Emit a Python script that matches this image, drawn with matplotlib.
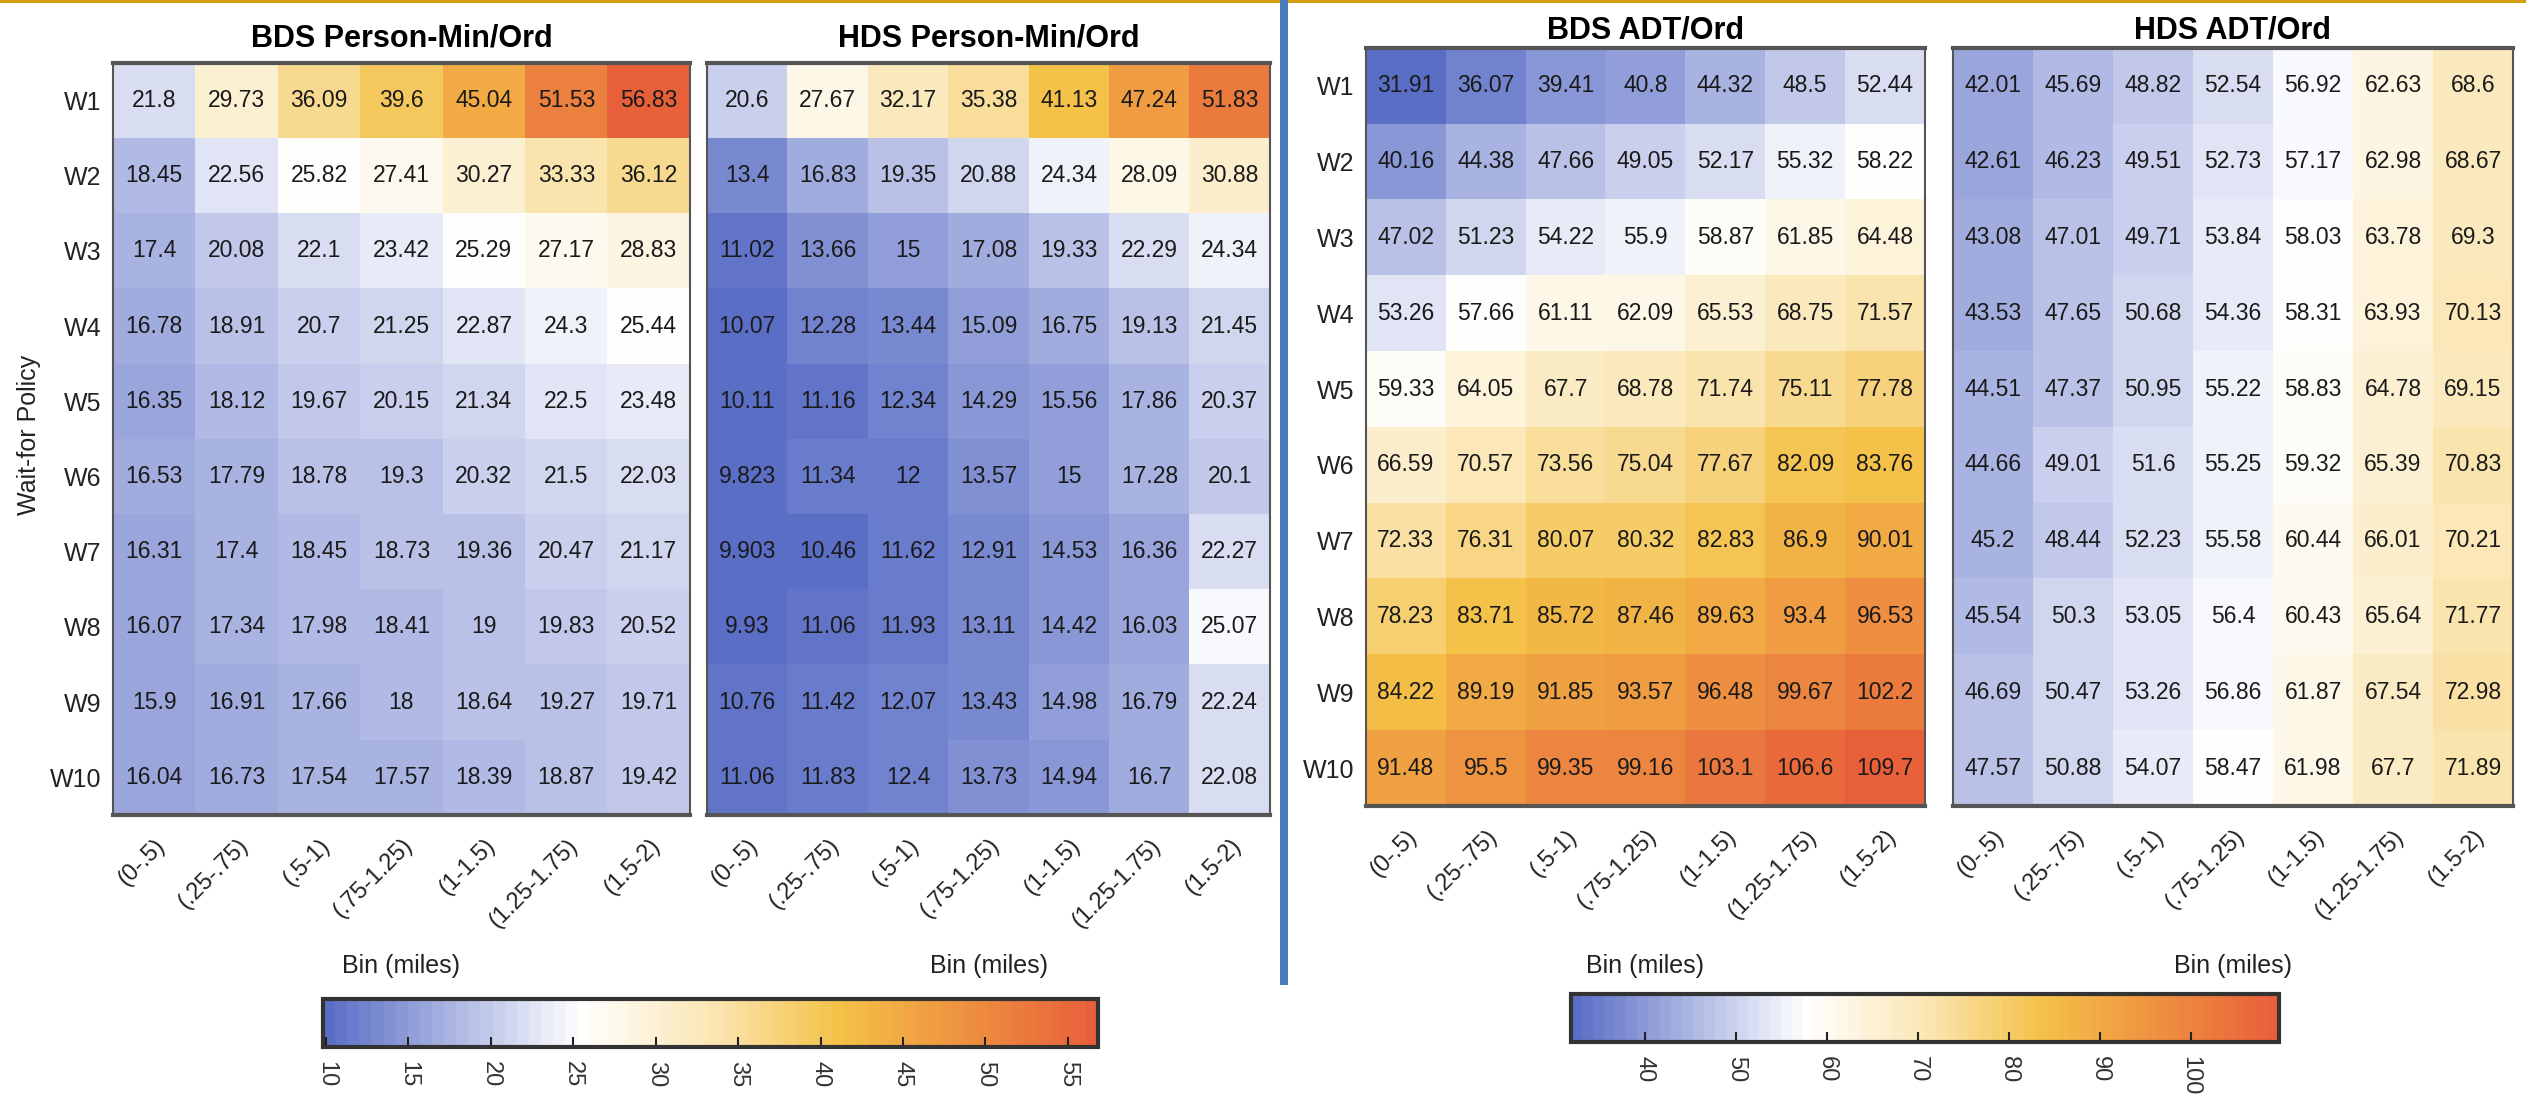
import numpy as np
import matplotlib.pyplot as plt
from matplotlib.colors import LinearSegmentedColormap
from matplotlib.patches import Rectangle

plt.rcParams['font.family'] = ['Liberation Sans', 'DejaVu Sans']

bins = ["(0-.5)", "(.25-.75)", "(.5-1)", "(.75-1.25)", "(1-1.5)", "(1.25-1.75)", "(1.5-2)"]
policies = ["W1", "W2", "W3", "W4", "W5", "W6", "W7", "W8", "W9", "W10"]

bds_person_min = [
    [21.8, 29.73, 36.09, 39.6, 45.04, 51.53, 56.83],
    [18.45, 22.56, 25.82, 27.41, 30.27, 33.33, 36.12],
    [17.4, 20.08, 22.1, 23.42, 25.29, 27.17, 28.83],
    [16.78, 18.91, 20.7, 21.25, 22.87, 24.3, 25.44],
    [16.35, 18.12, 19.67, 20.15, 21.34, 22.5, 23.48],
    [16.53, 17.79, 18.78, 19.3, 20.32, 21.5, 22.03],
    [16.31, 17.4, 18.45, 18.73, 19.36, 20.47, 21.17],
    [16.07, 17.34, 17.98, 18.41, 19, 19.83, 20.52],
    [15.9, 16.91, 17.66, 18, 18.64, 19.27, 19.71],
    [16.04, 16.73, 17.54, 17.57, 18.39, 18.87, 19.42],
]
hds_person_min = [
    [20.6, 27.67, 32.17, 35.38, 41.13, 47.24, 51.83],
    [13.4, 16.83, 19.35, 20.88, 24.34, 28.09, 30.88],
    [11.02, 13.66, 15, 17.08, 19.33, 22.29, 24.34],
    [10.07, 12.28, 13.44, 15.09, 16.75, 19.13, 21.45],
    [10.11, 11.16, 12.34, 14.29, 15.56, 17.86, 20.37],
    [9.823, 11.34, 12, 13.57, 15, 17.28, 20.1],
    [9.903, 10.46, 11.62, 12.91, 14.53, 16.36, 22.27],
    [9.93, 11.06, 11.93, 13.11, 14.42, 16.03, 25.07],
    [10.76, 11.42, 12.07, 13.43, 14.98, 16.79, 22.24],
    [11.06, 11.83, 12.4, 13.73, 14.94, 16.7, 22.08],
]
bds_adt = [
    [31.91, 36.07, 39.41, 40.8, 44.32, 48.5, 52.44],
    [40.16, 44.38, 47.66, 49.05, 52.17, 55.32, 58.22],
    [47.02, 51.23, 54.22, 55.9, 58.87, 61.85, 64.48],
    [53.26, 57.66, 61.11, 62.09, 65.53, 68.75, 71.57],
    [59.33, 64.05, 67.7, 68.78, 71.74, 75.11, 77.78],
    [66.59, 70.57, 73.56, 75.04, 77.67, 82.09, 83.76],
    [72.33, 76.31, 80.07, 80.32, 82.83, 86.9, 90.01],
    [78.23, 83.71, 85.72, 87.46, 89.63, 93.4, 96.53],
    [84.22, 89.19, 91.85, 93.57, 96.48, 99.67, 102.2],
    [91.48, 95.5, 99.35, 99.16, 103.1, 106.6, 109.7],
]
hds_adt = [
    [42.01, 45.69, 48.82, 52.54, 56.92, 62.63, 68.6],
    [42.61, 46.23, 49.51, 52.73, 57.17, 62.98, 68.67],
    [43.08, 47.01, 49.71, 53.84, 58.03, 63.78, 69.3],
    [43.53, 47.65, 50.68, 54.36, 58.31, 63.93, 70.13],
    [44.51, 47.37, 50.95, 55.22, 58.83, 64.78, 69.15],
    [44.66, 49.01, 51.6, 55.25, 59.32, 65.39, 70.83],
    [45.2, 48.44, 52.23, 55.58, 60.44, 66.01, 70.21],
    [45.54, 50.3, 53.05, 56.4, 60.43, 65.64, 71.77],
    [46.69, 50.47, 53.26, 56.86, 61.87, 67.54, 72.98],
    [47.57, 50.88, 54.07, 58.47, 61.98, 67.7, 71.89],
]

# blue -> white -> yellow -> orange, 64 steps like a MATLAB colormap
cmap = LinearSegmentedColormap.from_list(
    "bwyo",
    [(0.0, "#5a6ec6"), (0.33, "#ffffff"), (0.5, "#fbe6b4"),
     (0.67, "#f4c147"), (1.0, "#e8603a")],
    N=64,
)

W, H = 2526, 1096
fig = plt.figure(figsize=(W / 100, H / 100), dpi=100)


def fbox(x0, y0, x1, y1):
    # pixel box (top-left origin) -> figure fraction rect
    return [x0 / W, 1 - y1 / H, (x1 - x0) / W, (y1 - y0) / H]


def heatmap(rect, data, title, vmin, vmax, rowlabels, title_pad, xlab_y):
    ax = fig.add_axes(rect)
    arr = np.array(data)
    im = ax.imshow(arr, cmap=cmap, vmin=vmin, vmax=vmax, aspect="auto",
                   interpolation="nearest")
    for i in range(arr.shape[0]):
        for j in range(arr.shape[1]):
            ax.text(j, i, f"{arr[i, j]:.4g}", ha="center", va="center",
                    fontsize=16.5, color="#1a1a1a")
    ax.set_xticks(range(len(bins)))
    ax.set_xticklabels(bins, rotation=45, ha="right", rotation_mode="anchor",
                       fontsize=17, color="#222222")
    ax.set_yticks(range(len(policies)))
    if rowlabels:
        ax.set_yticklabels(policies, fontsize=18, color="#222222")
    else:
        ax.set_yticklabels([])
    ax.tick_params(axis="x", length=0, pad=14)
    ax.tick_params(axis="y", length=0, pad=8)
    ax.set_title(title, fontsize=22, fontweight="bold", pad=title_pad)
    ax.set_xlabel("Bin (miles)", fontsize=18, color="#222222")
    ax.xaxis.set_label_coords(0.5, xlab_y)
    for side, sp in ax.spines.items():
        sp.set_color("#555555")
        sp.set_linewidth(3 if side in ("top", "bottom") else 1.5)
    return im


lim_pm = (np.min([bds_person_min, hds_person_min]), np.max([bds_person_min, hds_person_min]))
lim_adt = (np.min([bds_adt, hds_adt]), np.max([bds_adt, hds_adt]))

im1 = heatmap(fbox(113, 63, 690, 815), bds_person_min, "BDS Person-Min/Ord", *lim_pm, True, 12, -0.185)
heatmap(fbox(707, 63, 1270, 815), hds_person_min, "HDS Person-Min/Ord", *lim_pm, False, 12, -0.185)
im3 = heatmap(fbox(1366, 48, 1925, 806), bds_adt, "BDS ADT/Ord", *lim_adt, True, 7, -0.195)
heatmap(fbox(1953, 48, 2513, 806), hds_adt, "HDS ADT/Ord", *lim_adt, False, 7, -0.195)

fig.text(29 / W, 1 - 435 / H, "Wait-for Policy", rotation=90, ha="center",
         va="center", fontsize=18, color="#222222")


def colorbar(im, rect, ticks):
    cax = fig.add_axes(rect)
    cb = fig.colorbar(im, cax=cax, orientation="horizontal", ticks=ticks)
    cb.outline.set_edgecolor("#333333")
    cb.outline.set_linewidth(3)
    cax.tick_params(direction="in", length=7, width=1.5, color="#222222",
                    labelsize=17, labelrotation=-90, pad=10, labelcolor="#333333")
    for lab in cax.get_xticklabels():
        lab.set_va("top")
        lab.set_ha("center")
    return cb


colorbar(im1, fbox(323, 999, 1098, 1047), list(range(10, 56, 5)))
colorbar(im3, fbox(1571, 994, 2279, 1042), list(range(40, 101, 10)))

# header rule and panel divider
fig.add_artist(Rectangle((0, 1 - 3 / H), 1, 3 / H, transform=fig.transFigure,
                         color="#d4a010", lw=0))
fig.add_artist(Rectangle((1280 / W, 1 - 985 / H), 8 / W, 985 / H,
                         transform=fig.transFigure, color="#4a7ebb", lw=0))

fig.savefig("out.png", dpi=100)
